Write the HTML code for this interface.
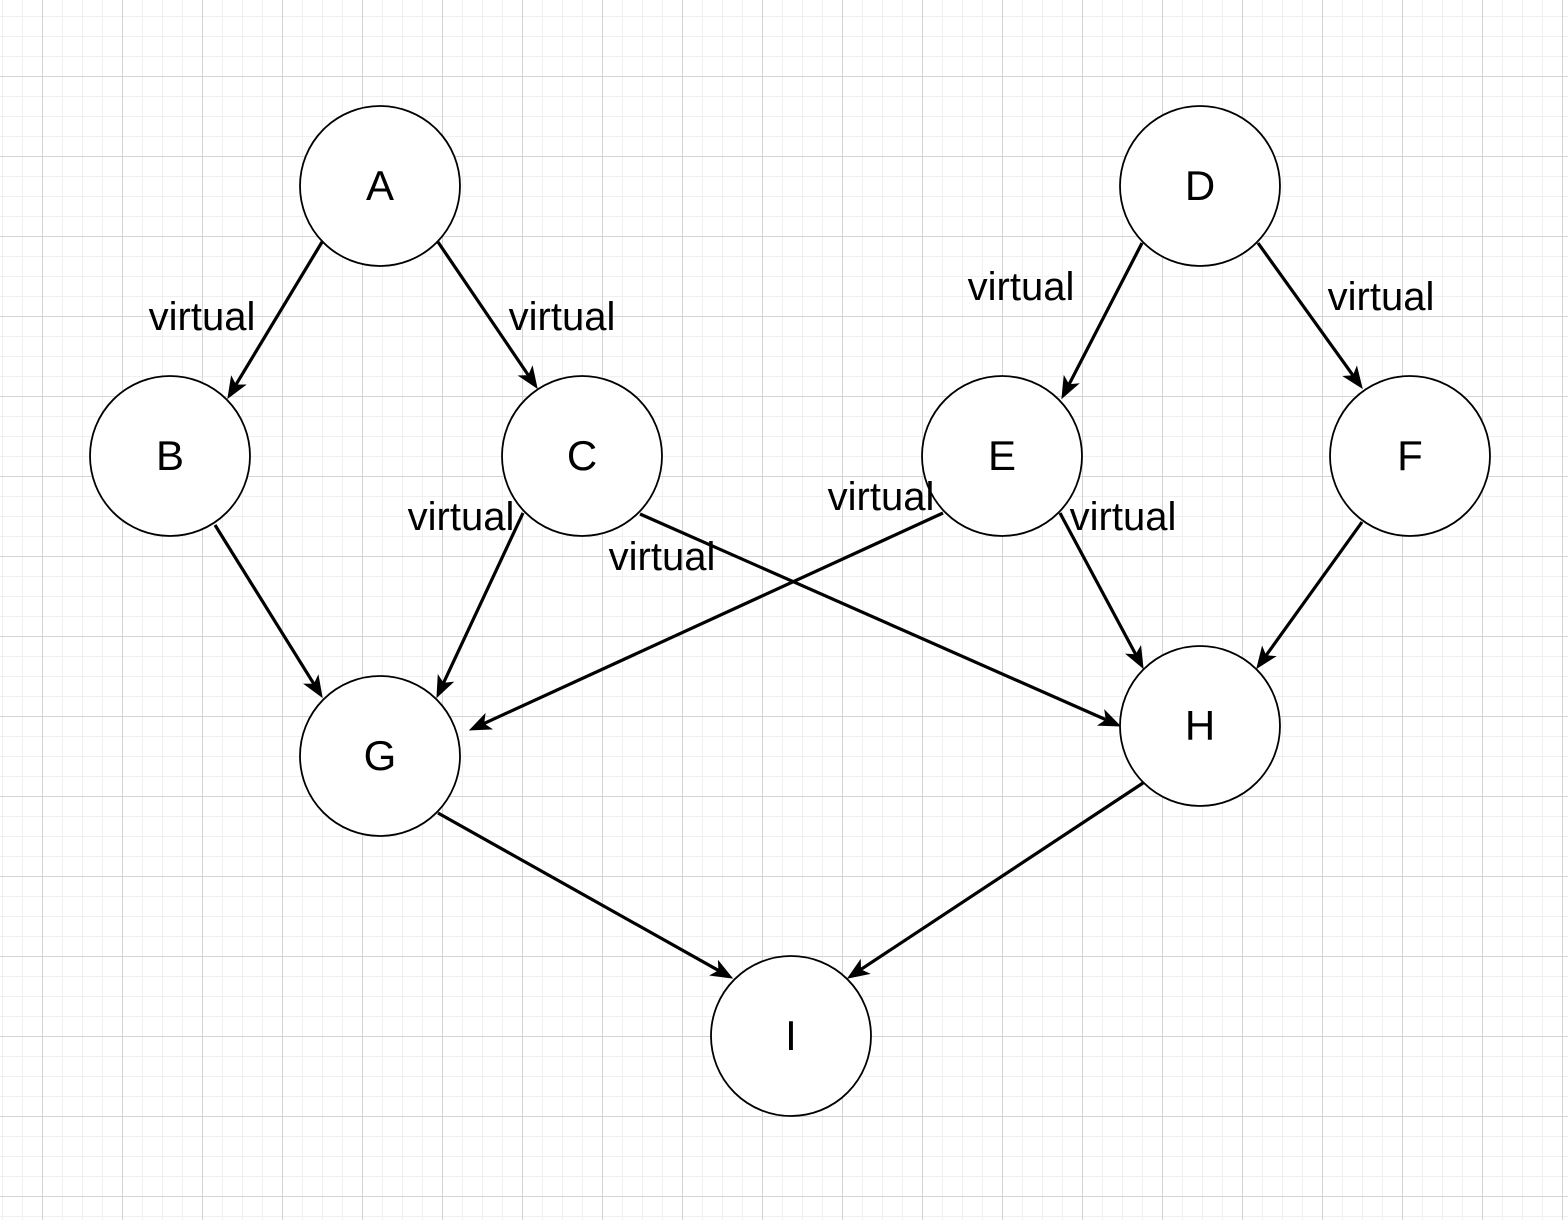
<!DOCTYPE html>
<html><head><meta charset="utf-8"><style>
html,body{margin:0;padding:0;background:#fff}
svg{display:block}
text{font-family:"Liberation Sans",Arial,sans-serif;fill:#000}
</style></head><body>
<svg width="1568" height="1220" viewBox="0 0 1568 1220" xmlns="http://www.w3.org/2000/svg">
<defs>
<pattern id="minor" x="2" y="16" width="20" height="20" patternUnits="userSpaceOnUse">
<path d="M0.5 0V20M0 0.5H20" stroke="#f0f0f0" stroke-width="1" fill="none"/>
</pattern>
<pattern id="major" x="42" y="76" width="80" height="80" patternUnits="userSpaceOnUse">
<path d="M0.5 0V80M0 0.5H80" stroke="#d4d4d4" stroke-width="1" fill="none"/>
</pattern>
</defs>
<rect width="1568" height="1220" fill="url(#minor)"/>
<rect width="1568" height="1220" fill="url(#major)"/>
<g stroke="#000" stroke-width="3.2" fill="none">
<line x1="322" y1="242" x2="235.7" y2="385.1"/>
<line x1="438" y1="242" x2="528.6" y2="375.6"/>
<line x1="1142" y1="243" x2="1068.9" y2="384.7"/>
<line x1="1258" y1="243" x2="1353.3" y2="375.8"/>
<line x1="215" y1="525" x2="314.1" y2="684.3"/>
<line x1="523" y1="513" x2="443.3" y2="683.4"/>
<line x1="640" y1="514" x2="1106.3" y2="719.9"/>
<line x1="943" y1="513" x2="483.6" y2="723.7"/>
<line x1="1060" y1="513" x2="1135.9" y2="654.8"/>
<line x1="1362" y1="522" x2="1265.8" y2="655.8"/>
<line x1="438" y1="813" x2="718.9" y2="970.7"/>
<line x1="1143" y1="783" x2="860.5" y2="969.7"/>
</g>
<g fill="#000" stroke="#000" stroke-width="1">
<polygon points="228,398 231.4,376.8 235.7,385.1 245.2,385.0"/>
<polygon points="537,388 519.2,375.9 528.6,375.6 532.4,366.9"/>
<polygon points="1062,398 1064.1,376.5 1068.9,384.7 1078.3,383.9"/>
<polygon points="1362,388 1343.8,376.4 1353.3,375.8 1356.8,367.0"/>
<polygon points="322,697 304.6,684.2 314.1,684.3 318.2,675.8"/>
<polygon points="437,697 438.2,675.5 443.3,683.4 452.8,682.3"/>
<polygon points="1120,726 1098.5,725.2 1106.3,719.9 1104.9,710.6"/>
<polygon points="470,730 484.9,714.4 483.6,723.7 491.5,729.0"/>
<polygon points="1143,668 1126.5,654.2 1135.9,654.8 1140.7,646.6"/>
<polygon points="1257,668 1262.2,647.1 1265.8,655.8 1275.2,656.5"/>
<polygon points="732,978 710.7,975.2 718.9,970.7 718.5,961.2"/>
<polygon points="848,978 860.3,960.3 860.5,969.7 869.1,973.7"/>
</g>
<g fill="#fff" stroke="#000" stroke-width="1.8">
<circle cx="380" cy="186" r="80"/>
<circle cx="170" cy="456" r="80"/>
<circle cx="582" cy="456" r="80"/>
<circle cx="1200" cy="186" r="80"/>
<circle cx="1002" cy="456" r="80"/>
<circle cx="1410" cy="456" r="80"/>
<circle cx="380" cy="756" r="80"/>
<circle cx="1200" cy="726" r="80"/>
<circle cx="791" cy="1036" r="80"/>
</g>
<g font-size="42" text-anchor="middle">
<text x="380" y="200">A</text>
<text x="170" y="470">B</text>
<text x="582" y="470">C</text>
<text x="1200" y="200">D</text>
<text x="1002" y="470">E</text>
<text x="1410" y="470">F</text>
<text x="380" y="770">G</text>
<text x="1200" y="740">H</text>
<text x="791" y="1050">I</text>
</g>
<g font-size="40" text-anchor="middle">
<text x="202" y="330">virtual</text>
<text x="562" y="330">virtual</text>
<text x="1021" y="300">virtual</text>
<text x="1381" y="310">virtual</text>
<text x="461" y="530">virtual</text>
<text x="881" y="510">virtual</text>
<text x="1123" y="530">virtual</text>
<text x="662" y="570">virtual</text>
</g>
</svg>
</body></html>
